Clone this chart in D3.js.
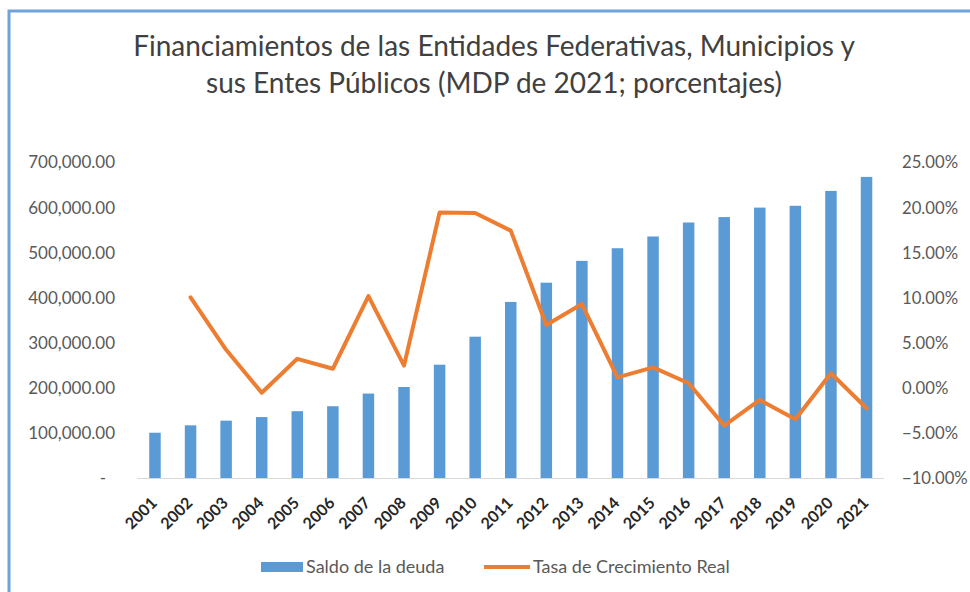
<!DOCTYPE html>
<html><head><meta charset="utf-8">
<script src="https://cdn.jsdelivr.net/npm/d3@7"></script>
<style>
body{margin:0;background:#fff;}
svg text{font-family:Lato,"Open Sans",sans-serif;}
</style></head>
<body><svg id="c" width="970" height="592"></svg>
<script>
const years = ["2001","2002","2003","2004","2005","2006","2007","2008","2009","2010","2011","2012","2013","2014","2015","2016","2017","2018","2019","2020","2021"];
const saldo = [100300,116700,127000,135000,148000,159000,187000,201600,251000,313000,390000,432700,481000,509000,535000,566000,578000,599000,603000,636000,667000];
const tasa = [null,10.0,4.2,-0.55,3.2,2.1,10.15,2.45,19.4,19.35,17.4,6.95,9.27,1.15,2.26,0.49,-4.2,-1.36,-3.5,1.6,-2.28];
const leftTicks = [0,100000,200000,300000,400000,500000,600000,700000];
const rightTicks = [-10,-5,0,5,10,15,20,25];
const titleLines = ["Financiamientos de las Entidades Federativas, Municipios y","sus Entes Públicos (MDP de 2021; porcentajes)"];
const legendLabels = ["Saldo de la deuda","Tasa de Crecimiento Real"];

const svg = d3.select("#c");
const blue = "#5b9bd5", orange = "#ed7d31", txt = "#595959";

// border
svg.append("path").attr("d","M9,600 L9,11 L980,11").attr("fill","none").attr("stroke","#6fa3dc").attr("stroke-width",3);

// title
svg.append("g").selectAll("text").data(titleLines).join("text")
  .attr("x",494).attr("y",(d,i)=>56+i*37).attr("text-anchor","middle")
  .attr("font-size",28).attr("fill","#404040").text(d=>d);

const x = d3.scaleBand().domain(years).range([137.2,884.3]).paddingInner(0.677).paddingOuter(0.338);
const yL = d3.scaleLinear().domain([0,700000]).range([478,162]);
const yR = d3.scaleLinear().domain([-10,25]).range([478,162]);

// bars
svg.append("g").selectAll("rect").data(saldo).join("rect")
  .attr("x",(d,i)=>x(years[i])).attr("width",x.bandwidth())
  .attr("y",d=>yL(d)).attr("height",d=>yL(0)-yL(d)).attr("fill",blue);

// x axis line
svg.append("line").attr("x1",137).attr("x2",884).attr("y1",478.5).attr("y2",478.5).attr("stroke","#d9d9d9").attr("stroke-width",1);

// left axis
const fmtL = d3.format(",.2f");
const gl = svg.append("g").attr("transform","translate(115,0)")
  .call(d3.axisLeft(yL).tickValues(leftTicks).tickSize(0).tickPadding(0).tickFormat(d=> d===0 ? "-" : fmtL(d)));
gl.select(".domain").remove();
gl.selectAll("text").attr("font-size",17).attr("fill",txt).attr("dy","0.35em").style("font-family","Lato,sans-serif")
  .attr("dx",d=>d===0?-9:0);

// right axis
const gr = svg.append("g").attr("transform","translate(902,0)")
  .call(d3.axisRight(yR).tickValues(rightTicks).tickSize(0).tickPadding(0).tickFormat(d=>d3.format(".2f")(d)+"%"));
gr.select(".domain").remove();
gr.selectAll("text").attr("font-size",16.7).attr("fill",txt).attr("dy","0.35em").style("font-family","Lato,sans-serif");

// x labels
svg.append("g").selectAll("text").data(years).join("text")
  .attr("transform",d=>`translate(${x(d)+x.bandwidth()/2+3},${504}) rotate(-45)`)
  .attr("text-anchor","end").attr("font-size",16).attr("font-weight","bold").attr("fill","#262626").text(d=>d);

// line
const line = d3.line().defined(d=>d!==null).x((d,i)=>x(years[i])+x.bandwidth()/2).y(d=>yR(d));
svg.append("path").datum(tasa).attr("d",line).attr("fill","none").attr("stroke",orange).attr("stroke-width",4).attr("stroke-linejoin","round").attr("stroke-linecap","round");

// legend
const lg = svg.append("g");
lg.append("rect").attr("x",261).attr("y",562).attr("width",42).attr("height",10).attr("fill",blue);
lg.append("text").attr("x",306).attr("y",573).attr("font-size",18).attr("fill",txt).text(legendLabels[0]);
lg.append("line").attr("x1",484).attr("x2",530).attr("y1",567).attr("y2",567).attr("stroke",orange).attr("stroke-width",4);
lg.append("text").attr("x",533).attr("y",573).attr("font-size",18).attr("fill",txt).text(legendLabels[1]);
</script></body></html>
